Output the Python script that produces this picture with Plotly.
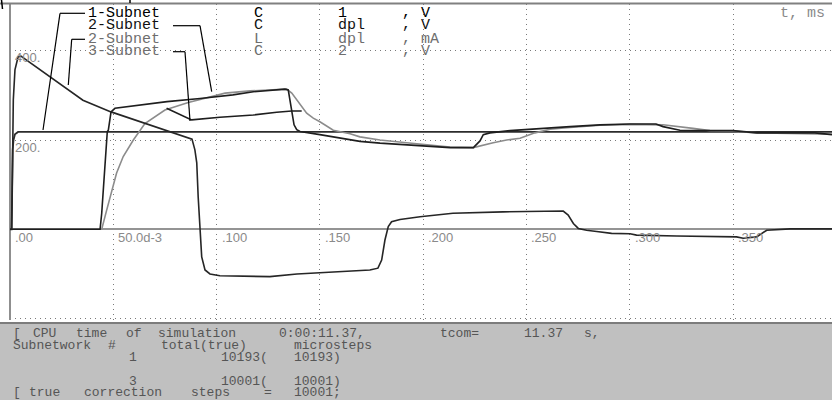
import plotly.graph_objects as go

# ---------------- data (t in s, values in V / mA) ----------------
t_A = [0, 0.0008, 0.0013, 0.0017, 0.0024, 0.0039, 0.3979]
v_A = [0, 0, 178, 200, 213, 218, 218]

t_C = [0, 0.0008, 0.0013, 0.0016, 0.0024, 0.0039, 0.0053, 0.0194, 0.0353, 0.0489,
       0.0653, 0.0881, 0.0895, 0.0904, 0.0911, 0.0920, 0.0928, 0.0944, 0.0968, 0.1016,
       0.1258, 0.1389, 0.1500, 0.1612, 0.1742, 0.1781, 0.1799, 0.1815, 0.1831, 0.1847,
       0.1888, 0.1985, 0.2144, 0.2386, 0.2614, 0.2678, 0.2702, 0.2727, 0.2751, 0.2791,
       0.2840, 0.2912, 0.3001, 0.3033, 0.3227, 0.3517, 0.3549, 0.3614, 0.3663, 0.3776,
       0.3979]
v_C = [0, 0, 178, 290, 357, 386, 388, 342, 289, 263,
       238, 202, 178, 149, 72, -2, -62, -91, -100, -104,
       -106, -100, -97, -95, -91, -87, -69, -24, 6, 17,
       22, 28, 36, 39, 41, 41, 32, 13, 2, -2,
       -5, -9, -10, -13, -15, -17, -20, -17, -2, 1,
       1]

t_B = [0, 0.0436, 0.0444, 0.0455, 0.0465, 0.0471, 0.0476, 0.0489, 0.0508, 0.0595,
       0.0760, 0.0920, 0.1079, 0.1178, 0.1258, 0.1331, 0.1347, 0.1355, 0.1364, 0.1375,
       0.1388, 0.1404, 0.1500, 0.1597, 0.1694, 0.1791, 0.1920, 0.2033, 0.2130, 0.2243,
       0.2275, 0.2291, 0.2323, 0.2420, 0.2614, 0.2711, 0.2856, 0.3001, 0.3127, 0.3161,
       0.3243, 0.3499, 0.3616, 0.3896, 0.3979]
v_B = [0, 0, 36, 110, 178, 219, 222, 263, 271, 276,
       286, 293, 301, 308, 312, 314, 312, 290, 260, 234,
       223, 219, 212, 204, 197, 193, 189, 185, 183, 183,
       198, 212, 216, 221, 226, 230, 234, 236, 236, 230,
       222, 221, 216, 216, 212]

t_D = [0, 0.0444, 0.0468, 0.0492, 0.0516, 0.0548, 0.0597, 0.0653, 0.0750, 0.0863,
       0.1041, 0.1162, 0.1331, 0.1339, 0.1364, 0.1388, 0.1412, 0.1436, 0.1468, 0.1500,
       0.1565, 0.1646, 0.1694, 0.1791, 0.1920, 0.2017, 0.2130, 0.2243, 0.2291, 0.2339,
       0.2404, 0.2469, 0.2541, 0.2614, 0.2711, 0.2856, 0.3001, 0.3161, 0.3306, 0.3388,
       0.3499, 0.3616, 0.3979]
v_D = [0, 0, 43, 88, 126, 163, 200, 237, 267, 284,
       305, 310, 315, 314, 305, 290, 275, 260, 249, 241,
       222, 214, 207, 200, 194, 189, 184, 183, 189, 194,
       200, 204, 216, 224, 228, 233, 235, 234, 226, 221,
       220, 216, 213]

t_E = [0.0758, 0.0879, 0.1016, 0.1178, 0.1291, 0.1364, 0.1412]
v_E = [271, 245, 251, 256, 262, 265, 265]

x_tick_vals = [0.0, 0.05, 0.10, 0.15, 0.20, 0.25, 0.30, 0.35]
x_tick_text = [".00", "50.0d-3", ".100", ".150", ".200", ".250", ".300", ".350"]
y_tick_vals = [400, 200]
y_tick_text = ["400.", "200."]

leg_subnet = ["1-Subnet", "2-Subnet", "2-Subnet", "3-Subnet"]
leg_type = ["C", "C", "L", "C"]
leg_name = ["1", "dpl", "dpl", "2"]
leg_unit = ["V", "V", "mA", "V"]

# ---------------- figure ----------------
W, H = 832, 400
X_RANGE = [0, 0.3979]
Y_RANGE = [-203.1, 504.6]


def px(x, y):
    return x / W, 1 - y / H


fig = go.Figure()
line_specs = [
    (t_A, v_A, "#2c2c2c", 1.8),
    (t_D, v_D, "#8c8c8c", 1.6),
    (t_C, v_C, "#262626", 1.6),
    (t_B, v_B, "#1e1e1e", 1.6),
    (t_E, v_E, "#1e1e1e", 1.6),
]
for tx, vy, col, w in line_specs:
    fig.add_trace(go.Scatter(x=tx, y=vy, mode="lines", line=dict(color=col, width=w),
                             hoverinfo="skip", showlegend=False))

fig.update_layout(
    width=W, height=H, margin=dict(l=0, r=0, t=0, b=0),
    paper_bgcolor="white", plot_bgcolor="white", showlegend=False,
    xaxis=dict(domain=[10 / W, 1], range=X_RANGE, tick0=0, dtick=0.05,
               showticklabels=False, ticks="", showgrid=True, gridcolor="#7a7a7a",
               griddash="1px,4px", gridwidth=1, zeroline=True,
               zerolinecolor="#8f8f8f", zerolinewidth=2, showline=False, fixedrange=True),
    yaxis=dict(domain=[(H - 320) / H, (H - 4) / H], range=Y_RANGE, tick0=0, dtick=200,
               showticklabels=False, ticks="", showgrid=True, gridcolor="#7a7a7a",
               griddash="1px,4px", gridwidth=1, zeroline=True,
               zerolinecolor="#949494", zerolinewidth=2, showline=False, fixedrange=True),
)

shapes = []
# top border
x0, y0 = px(0, 3.5)
x1, _ = px(W, 3.5)
shapes.append(dict(type="line", xref="paper", yref="paper", x0=x0, y0=y0, x1=x1, y1=y0,
                   line=dict(color="#808080", width=2)))
# small window remnants at the top edge
for (ax, ay), (bx, by) in [((1.5, 0), (2.5, 9)), ((130, 0), (130, 3))]:
    a = px(ax, ay)
    b = px(bx, by)
    shapes.append(dict(type="line", xref="paper", yref="paper", x0=a[0], y0=a[1],
                       x1=b[0], y1=b[1], line=dict(color="#000000", width=1.5)))
# status panel
pa, pb = px(0, 322)
pc, pd = px(W, H)
shapes.append(dict(type="rect", xref="paper", yref="paper", x0=pa, y0=pd, x1=pc, y1=pb,
                   fillcolor="#c0c0c0", line=dict(width=0), layer="above"))
shapes.append(dict(type="line", xref="paper", yref="paper", x0=pa, y0=px(0, 323)[1], x1=pc,
                   y1=px(0, 323)[1], line=dict(color="#7c7c7c", width=2), layer="above"))

# pointer lines from labels to curves (pixel paths)
pointers = [
    [(85, 13.3), (60, 13.3), (43, 130)],
    [(173, 25.7), (200, 25.7), (211.7, 91.7)],
    [(85, 39.3), (71.7, 39.3), (68.3, 85)],
    [(173, 51.7), (185, 51.7), (190, 121)],
]
for path in pointers:
    for (ax, ay), (bx, by) in zip(path[:-1], path[1:]):
        a = px(ax, ay)
        b = px(bx, by)
        shapes.append(dict(type="line", xref="paper", yref="paper", x0=a[0], y0=a[1],
                           x1=b[0], y1=b[1], line=dict(color="#000000", width=1.2)))
fig.update_layout(shapes=shapes)

MONO = "Liberation Mono, Courier New, monospace"
SANS = "Liberation Sans, Arial, sans-serif"
annotations = []


def text_px(s, x, y, size=14, color="#000", family=MONO):
    xx, yy = px(x, y)
    annotations.append(dict(text=s, xref="paper", yref="paper", x=xx, y=yy,
                            xanchor="left", yanchor="middle", showarrow=False,
                            borderpad=0, font=dict(family=family, size=size, color=color)))


# axis tick labels (data coords)
for v, s in zip(x_tick_vals, x_tick_text):
    annotations.append(dict(text=s, xref="x", yref="y", x=v, y=0, xanchor="left",
                            yanchor="middle", yshift=-8, xshift=4, showarrow=False,
                            borderpad=0, font=dict(family=SANS, size=13, color="#8a8a8a")))
for v, s in zip(y_tick_vals, y_tick_text):
    annotations.append(dict(text=s, xref="x", yref="y", x=0, y=v, xanchor="left",
                            yanchor="middle", yshift=-7, xshift=4, showarrow=False,
                            borderpad=0, font=dict(family=SANS, size=13, color="#8a8a8a")))

# legend block
row_y = [13.3, 25.7, 39.3, 51.7]
row_col = ["#000000", "#111111", "#6e6e6e", "#6e6e6e"]
for i in range(4):
    text_px(leg_subnet[i], 87, row_y[i], 15, row_col[i])
    text_px(leg_type[i], 253, row_y[i], 15, row_col[i])
    text_px(leg_name[i], 337, row_y[i], 15, row_col[i])
    text_px(",", 401, row_y[i] - 1, 15, row_col[i])
    text_px(leg_unit[i], 420, row_y[i], 15, row_col[i])
text_px("t, ms", 779, 13.5, 15, "#8a8a8a")

# status panel text
pc_col = "#555555"
panel = [
    (333, [("[", 12), ("CPU", 32), ("time", 75), ("of", 125), ("simulation", 157),
           ("0:00:11.37,", 278), ("tcom=", 439), ("11.37", 523), ("s,", 583)]),
    (345, [("Subnetwork", 12), ("#", 107), ("total(true)", 160), ("microsteps", 293)]),
    (357, [("1", 128), ("10193(", 220), ("10193)", 293)]),
    (381, [("3", 128), ("10001(", 220), ("10001)", 293)]),
    (392, [("[", 12), ("true", 28), ("correction", 83), ("steps", 190), ("=", 263),
           ("10001;", 293)]),
]
for yy, segs in panel:
    for s, xx in segs:
        text_px(s, xx, yy, 13, pc_col)

fig.update_layout(annotations=annotations)
fig.write_html("out.html",
               config={"displayModeBar": False},
               post_script="document.body.style.margin='0';"
                           "document.body.style.overflow='hidden';")
